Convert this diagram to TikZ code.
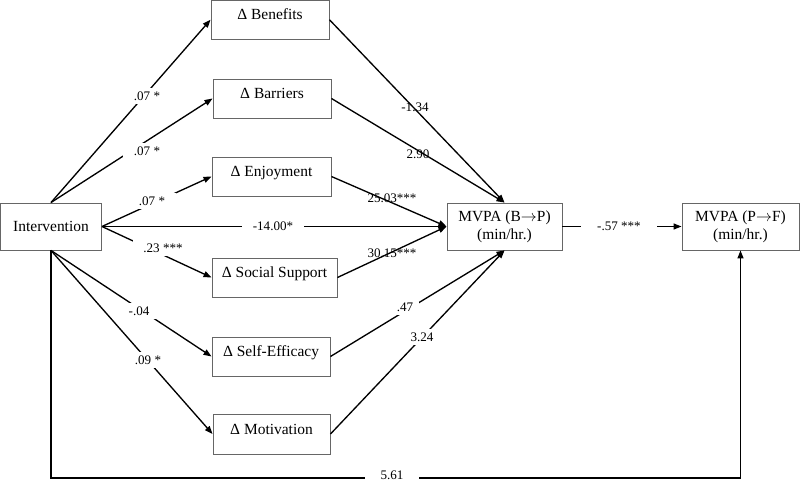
\documentclass[tikz,border=0pt]{standalone}
\usepackage{fontspec}
\setmainfont{Liberation Serif}
\usetikzlibrary{arrows.meta}
\begin{document}
\begin{tikzpicture}[x=0.75pt,y=-0.75pt,
 box/.style={draw=black!60, line width=0.7pt, inner sep=0pt, font=\fontsize{11.6}{13.5}\selectfont, align=center},
 med/.style={box, minimum height=29.25pt, text height=8.5pt, text depth=8.5pt},
 arr/.style={line width=1pt, -{Triangle[length=6pt,width=4.5pt]}},
 lbl/.style={font=\fontsize{9.8}{11}\selectfont, inner sep=1pt},
 gaplbl/.style={lbl, fill=white, inner xsep=8pt, inner ysep=3pt}]
\useasboundingbox (0,0) rectangle (800,481);
% boxes
\node[box, minimum width=75.75pt, minimum height=35.25pt] (int) at (51,226.5) {Intervention};
\node[med, minimum width=88.5pt, minimum height=28.9pt] (ben) at (270,19.75) {Δ Benefits};
\node[med, minimum width=88.5pt] (bar) at (272,98.5) {Δ Barriers};
\node[med, minimum width=89.25pt] (enj) at (271.5,176.5) {Δ Enjoyment};
\node[med, minimum width=93.75pt] (soc) at (274.5,277.5) {Δ Social Support};
\node[med, minimum width=88.5pt] (self) at (271,356.5) {Δ Self-Efficacy};
\node[med, minimum width=87.75pt, minimum height=30pt] (mot) at (271.5,434) {Δ Motivation};
\node[box, minimum width=86.25pt, minimum height=35.25pt] (m1) at (504.5,226.5) {MVPA (B$\rightarrow$P)\\(min/hr.)};
\node[box, minimum width=87.75pt, minimum height=35.25pt] (m2) at (740.5,226.5) {MVPA (P$\rightarrow$F)\\(min/hr.)};
\coordinate (bot) at (0,478);
% connectors
\draw[arr] (int.north) -- (ben.west);
\draw[arr] (int.north) -- (bar.west);
\draw[arr] (int.east) -- (enj.west);
\draw[arr] (int.east) -- (m1.west);
\draw[arr] (int.east) -- (soc.west);
\draw[arr] (int.south) -- (self.west);
\draw[arr] (int.south) -- (mot.west);
\draw[arr] (ben.east) -- (m1.north);
\draw[arr] (bar.east) -- (m1.north);
\draw[arr] (enj.east) -- (m1.west);
\draw[arr] (soc.east) -- (m1.west);
\draw[arr] (self.east) -- (m1.south);
\draw[arr] (mot.east) -- (m1.south);
\draw[arr] (m1.east) -- (m2.west);
\draw[arr] (int.south) -- (int.south |- bot) -| (m2.south);
% labels
\node[gaplbl] (l1) at (147,96) {.07 *};
\node[gaplbl] (l2) at (147,151) {.07 *};
\node[gaplbl] (l3) at (152,201) {.07 *};
\node[gaplbl] (l4) at (163,248) {.23 ***};
\node[gaplbl] (l5) at (139,311) {-.04};
\node[gaplbl] (l6) at (148,360) {.09 *};
\node[gaplbl] (l7) at (273,226.5) {-14.00*};
\node[lbl] (r1) at (415,107) {-1.34};
\node[lbl] (r2) at (418,154) {2.90};
\node[lbl] (r3) at (392,198) {25.03***};
\node[lbl] (r4) at (392,253) {30.15***};
\node[gaplbl, inner xsep=4pt] (r5) at (405,307) {.47};
\node[gaplbl, inner xsep=4pt] (r6) at (422,337) {3.24};
\node[gaplbl, inner xsep=12pt] (r7) at (619,226.5) {-.57 ***};
\node[gaplbl, inner xsep=12pt, inner ysep=1pt] (r8) at (392,475) {5.61};
\end{tikzpicture}
\end{document}
